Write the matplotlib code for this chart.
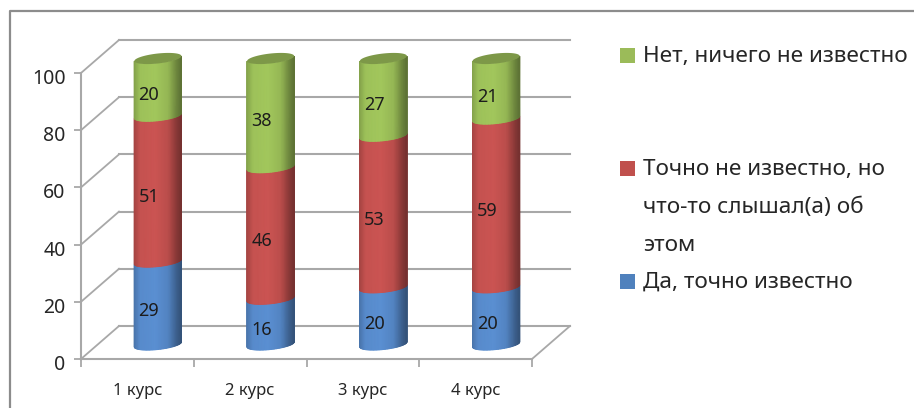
#!/usr/bin/env python3
import matplotlib

matplotlib.use("Agg")
import matplotlib.pyplot as plt
from matplotlib.colors import LinearSegmentedColormap
from matplotlib.patches import Rectangle
from matplotlib.transforms import ScaledTranslation
import numpy as np

plt.rcParams["font.family"] = ["Noto Sans", "DejaVu Sans"]

COURSES = ["1 курс", "2 курс", "3 курс", "4 курс"]
YES = [29, 16, 20, 20]
HEARD = [51, 46, 53, 59]
NO = [20, 38, 27, 21]
Y_TICKS = [0, 20, 40, 60, 80, 100]

SERIES = [
    (YES, "#5a8fd2"),
    (HEARD, "#cb5452"),
    (NO, "#a2c75c"),
]
LID_COLOR = "#7d9848"
LEGEND = [
    ("#9bbb59", ["Нет, ничего не известно"], 55),
    ("#c0504d", ["Точно не известно, но", "что-то слышал(а) об", "этом"], 168),
    ("#4f81bd", ["Да, точно известно"], 281),
]

W, H = 914, 408
GRID = "#a8a8a8"
PX_X = 451 / 4  # pixels per category
PX_Y = 286 / 100  # pixels per value unit
DEPTH_X = 38 / PX_X
DEPTH_Y = 33 / PX_Y
BAR_W = 47 / PX_X
BAR_DX = 20.5 / PX_X
BAR_BASE = 14.5 / PX_Y
TILT = 2.5 / PX_Y
MINOR = 5 / PX_Y


def shade(color):
    rgb = np.array(matplotlib.colors.to_rgb(color))
    return LinearSegmentedColormap.from_list(
        "cyl",
        [
            (0.0, rgb * 0.82),
            (0.12, rgb * 0.97),
            (0.45, rgb),
            (0.72, rgb * 0.92),
            (0.90, rgb * 0.68),
            (1.0, rgb * 0.58),
        ],
    )


def ellipse_y(level, t):
    return level + TILT * np.cos(t) + MINOR * np.sin(t)


def draw_segment(ax, cx, low, high, color):
    # front of a cylinder between two stacked values, shaded left to right
    u = np.linspace(0, 1, 48)
    t = np.pi + u * np.pi
    xs = cx + BAR_W / 2 * np.cos(t)
    X = np.vstack([xs, xs])
    Y = np.vstack([ellipse_y(low, t), ellipse_y(high, t)])
    # shading follows screen position, not the angle
    C = (X - X.min()) / (X.max() - X.min())
    ax.pcolormesh(X, Y, C, cmap=shade(color), shading="gouraud", clip_on=False, zorder=3)


def draw_lid(ax, cx, level):
    t = np.linspace(0, 2 * np.pi, 80)
    xs = cx + BAR_W / 2 * np.cos(t)
    ax.fill(xs, ellipse_y(level, t), color=LID_COLOR, lw=0, clip_on=False, zorder=3)


def main():
    fig = plt.figure(figsize=(W / 100, H / 100), dpi=100)
    ax = fig.add_axes([81 / W, (H - 359) / H, 451 / W, 286 / H])

    # chart frame, open on the right and at the bottom
    fig.add_artist(
        plt.Line2D([9.5 / W, 9.5 / W, 1], [0, (H - 11) / H, (H - 11) / H], color="#8c8c8c", lw=1.6)
    )

    # back wall and floor of the 3d box
    n = len(COURSES)
    for v in Y_TICKS:
        ax.plot([0, DEPTH_X], [v, v + DEPTH_Y], color=GRID, lw=1.3, clip_on=False, zorder=1)
        ax.plot([DEPTH_X, n + DEPTH_X], [v + DEPTH_Y] * 2, color=GRID, lw=1.5, clip_on=False, zorder=1)
    ax.plot([n, n + DEPTH_X], [0, DEPTH_Y], color=GRID, lw=1.3, clip_on=False, zorder=1)

    for i in range(n):
        cx = i + 0.5 + BAR_DX
        base = BAR_BASE
        for values, color in SERIES:
            low = base
            high = base + values[i]
            draw_segment(ax, cx, low, high, color)
            ax.text(
                cx - 9 / PX_X,
                (low + high) / 2 - 2.9,
                str(values[i]),
                ha="center",
                va="center",
                fontsize=13,
                color="#1c1c1c",
                zorder=4,
            )
            base = high
        draw_lid(ax, cx, base)

    ax.set_xlim(0, n)
    ax.set_ylim(0, 100)
    ax.set_xticks(range(n + 1))
    ax.set_xticklabels([])
    ax.set_xticks([i + 0.5 for i in range(n)], COURSES, minor=True)
    ax.set_yticks(Y_TICKS)
    ax.tick_params(axis="y", length=5, width=1.3, color=GRID, labelsize=14, pad=6, labelcolor="#262626")
    ax.tick_params(axis="x", which="major", length=6, width=1.3, color=GRID)
    ax.tick_params(axis="x", which="minor", length=0, labelsize=12, pad=17.5, labelcolor="#262626")
    shift = ScaledTranslation(0, -2.5 / 72, fig.dpi_scale_trans)
    for label in ax.get_yticklabels():
        label.set_transform(label.get_transform() + shift)
    ax.patch.set_visible(False)
    for side in ["top", "right"]:
        ax.spines[side].set_visible(False)
    for side in ["left", "bottom"]:
        ax.spines[side].set_color(GRID)
        ax.spines[side].set_linewidth(1.5)

    # legend
    for color, lines, y0 in LEGEND:
        fig.add_artist(
            Rectangle((620 / W, (H - y0 - 7.5) / H), 15 / W, 15 / H, transform=fig.transFigure, fc=color, ec="none")
        )
        for k, line in enumerate(lines):
            fig.text(643 / W, (H - y0 - 38 * k - 1.5) / H, line, ha="left", va="center", fontsize=16.2, color="#262626")

    fig.savefig("out.png", dpi=100)
    plt.close(fig)


if __name__ == "__main__":
    main()
